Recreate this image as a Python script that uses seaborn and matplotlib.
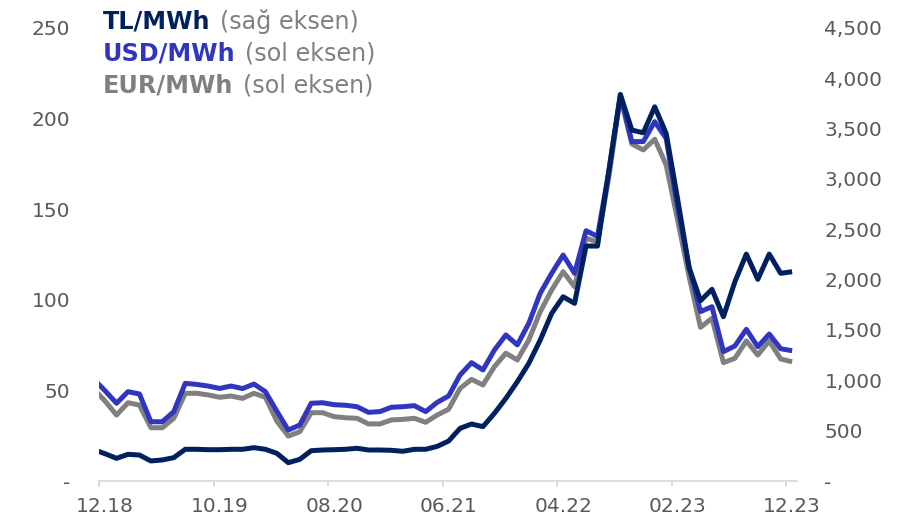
import numpy as np
import pandas as pd
import matplotlib
matplotlib.use("Agg")
import matplotlib.pyplot as plt
import seaborn as sns

# ---- data (monthly, Nov 2018 .. Dec 2023; first point clipped at the axis edge) ----
usd = [56.2, 49.8, 42.9, 49.3, 48.0, 32.7, 32.7, 38.3, 53.9, 53.3,
       52.4, 51.1, 52.4, 51.0, 53.5, 49.3, 38.5, 28.1, 30.9, 42.9,
       43.2, 42.1, 41.8, 41.0, 37.9, 38.3, 40.7, 41.0, 41.6, 38.3,
       43.4, 46.9, 58.5, 65.3, 61.3, 72.3, 80.6, 75.1, 87.0, 103.6,
       114.6, 124.7, 114.6, 138.1, 135.0, 171.0, 213.0, 187.3, 187.3, 198.3,
       189.0, 151.0, 118.0, 93.5, 96.2, 71.4, 74.5, 83.7, 74.1, 81.1,
       73.0, 71.9]
eur = [50.9, 44.1, 36.4, 43.2, 41.9, 29.4, 29.4, 34.6, 48.4, 48.4,
       47.5, 46.2, 46.9, 45.6, 48.4, 46.2, 33.0, 24.8, 27.2, 37.7,
       37.7, 35.5, 34.9, 34.6, 31.5, 31.5, 33.7, 34.0, 34.6, 32.4,
       36.4, 39.6, 51.1, 56.1, 53.0, 63.1, 70.5, 66.8, 77.8, 93.4,
       105.4, 115.5, 107.2, 134.0, 132.0, 168.0, 212.0, 186.0, 182.7, 188.6,
       174.4, 144.0, 112.8, 84.8, 89.8, 65.3, 67.7, 77.3, 69.5, 77.3,
       67.3, 65.8]
tl = [311, 271, 225, 265, 258, 199, 209, 232, 315, 315,
      311, 311, 315, 315, 331, 315, 275, 182, 215, 301,
      308, 311, 315, 325, 308, 308, 305, 295, 315, 315,
      344, 397, 523, 566, 540, 672, 821, 986, 1168, 1400,
      1665, 1830, 1765, 2334, 2334, 3088, 3840, 3486, 3459, 3717,
      3453, 2800, 2120, 1791, 1904, 1632, 1979, 2254, 2003, 2254,
      2063, 2079]
x_labels = ["12.18", "10.19", "08.20", "06.21", "04.22", "02.23", "12.23"]
left_ticks = [0, 50, 100, 150, 200, 250]
right_ticks = [0, 500, 1000, 1500, 2000, 2500, 3000, 3500, 4000, 4500]
legend_names = ["TL/MWh", "USD/MWh", "EUR/MWh"]
legend_notes = ["(sağ eksen)", "(sol eksen)", "(sol eksen)"]

c_tl = "#00215E"
c_usd = "#3036BE"
c_eur = "#808080"
c_txt = "#595959"
c_axis = "#D9D9D9"

pos = np.arange(len(usd)) - 0.5
df = pd.DataFrame({"x": pos, "USD": usd, "EUR": eur, "TL": tl})

sns.set_theme(style="white")
plt.rcParams["font.family"] = ["DejaVu Sans"]

fig = plt.figure(figsize=(9.2, 5.23), dpi=100)
ax = fig.add_axes([0.108, 0.0803, 0.758, 0.8662])
ax2 = ax.twinx()

lw = 3.6
sns.lineplot(data=df, x="x", y="EUR", ax=ax, color=c_eur, linewidth=lw,
             solid_joinstyle="round", solid_capstyle="butt")
sns.lineplot(data=df, x="x", y="USD", ax=ax, color=c_usd, linewidth=lw,
             solid_joinstyle="round", solid_capstyle="butt")
sns.lineplot(data=df, x="x", y="TL", ax=ax2, color=c_tl, linewidth=lw,
             solid_joinstyle="round", solid_capstyle="butt")

ax.set_xlim(0, 60.9)
ax.set_ylim(0, 250)
ax2.set_ylim(0, 4500)

for a in (ax, ax2):
    a.set_xlabel("")
    a.set_ylabel("")
    for s in ("top", "left", "right", "bottom"):
        a.spines[s].set_visible(False)
    a.grid(False)
ax.spines["bottom"].set_visible(True)
ax.spines["bottom"].set_color(c_axis)
ax.spines["bottom"].set_linewidth(1.3)

# x ticks: marks at boundaries, labels shifted half a month
major = [0, 10, 20, 30, 40, 50, 60]
ax.set_xticks(major)
ax.set_xticklabels([])
ax.tick_params(axis="x", which="major", length=4.2, width=1.3, color=c_axis,
               direction="out", bottom=True)
ax.set_xticks([m + 0.5 for m in major], minor=True)
ax.set_xticklabels(x_labels, minor=True)
ax.tick_params(axis="x", which="minor", length=0, pad=11.5, labelsize=14.5,
               labelcolor=c_txt)

ax.set_yticks(left_ticks)
ax.set_yticklabels(["-" if v == 0 else f"{v}" for v in left_ticks])
ax.tick_params(axis="y", length=0, pad=21, labelsize=14.5, labelcolor=c_txt, left=True)

ax2.set_yticks(right_ticks)
ax2.set_yticklabels(["-" if v == 0 else f"{v:,}" for v in right_ticks])
ax2.tick_params(axis="y", length=0, pad=20, labelsize=14.5, labelcolor=c_txt, right=True)

# legend as text
legend_cols = [c_tl, c_usd, c_eur]
y0 = 1 - 28.5 / 523
for i, (bold, rest, col) in enumerate(zip(legend_names, legend_notes, legend_cols)):
    yy = y0 - i * 32 / 523
    t1 = fig.text(103 / 920, yy, bold, color=col, fontsize=17.2,
                  fontweight="bold", va="baseline", ha="left")
    ax.annotate(rest, xy=(1, 0), xycoords=t1, xytext=(7, 0),
                textcoords="offset points", va="bottom", ha="left",
                color="#808080", fontsize=17.2, annotation_clip=False)

fig.savefig("out.png", dpi=100)
